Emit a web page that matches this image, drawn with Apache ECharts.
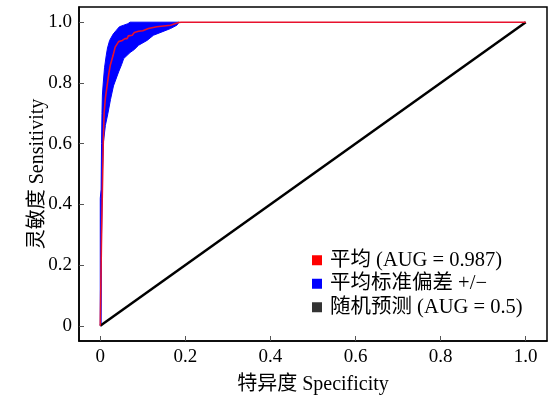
<!DOCTYPE html>
<html>
<head>
<meta charset="utf-8">
<script src="https://cdn.jsdelivr.net/npm/echarts@6/dist/echarts.min.js"></script>
<style>html,body{margin:0;padding:0;background:#fff}#c{width:550px;height:397px}</style>
</head>
<body>
<div id="c"></div>
<script>
var tickValues = [0, 0.2, 0.4, 0.6, 0.8, 1.0];
var tickLabels = ['0', '0.2', '0.4', '0.6', '0.8', '1.0'];
var seriesNames = ['平均 (AUG = 0.987)', '平均标准偏差 +/\u2212', '随机预测 (AUG = 0.5)'];

// mean ROC curve [fpr, sensitivity]
var meanCurve = [
  [0,0],[0.001,0.10],[0.003,0.30],[0.005,0.45],[0.007,0.60],[0.009,0.70],[0.012,0.75],
  [0.016,0.79],[0.020,0.83],[0.0235,0.858],[0.030,0.89],[0.035,0.918],[0.043,0.936],
  [0.052,0.940],[0.058,0.946],[0.063,0.946],[0.066,0.955],[0.075,0.957],[0.080,0.966],
  [0.090,0.970],[0.100,0.972],[0.113,0.979],[0.133,0.985],[0.165,0.990],[0.184,0.999],
  [0.19,1.0],[1.0,1.0]
];
// upper bound of std band (left edge)
var bandUpper = [
  [0,0],[0,0.42],[0.002,0.45],[0.003,0.60],[0.004,0.70],[0.005,0.76],[0.007,0.80],
  [0.010,0.85],[0.014,0.89],[0.017,0.915],[0.022,0.94],[0.030,0.96],[0.037,0.972],
  [0.045,0.985],[0.055,0.990],[0.065,0.995],[0.070,1.0],[0.185,1.0]
];
// lower bound of std band (right edge)
var bandLower = [
  [0.002,0],[0.003,0.30],[0.005,0.50],[0.007,0.60],[0.012,0.66],[0.018,0.70],[0.024,0.745],
  [0.031,0.79],[0.043,0.836],[0.050,0.86],[0.055,0.88],[0.070,0.90],[0.080,0.91],[0.090,0.924],
  [0.110,0.940],[0.125,0.957],[0.145,0.968],[0.165,0.979],[0.180,0.990],[0.185,1.0]
];
var randomLine = [[0,0],[1,1]];

var bandPolygon = bandUpper.concat(bandLower.slice().reverse());

var serif = '"Liberation Serif", "Times New Roman", "Noto Sans CJK SC", serif';
var chart = echarts.init(document.getElementById('c'), null, {renderer: 'canvas'});
chart.setOption({
  animation: false,
  backgroundColor: '#fff',
  grid: {left: 79, right: 3, top: 7, bottom: 56, show: true, borderColor: '#000', borderWidth: 1.5,
    backgroundColor: 'transparent', outerBoundsMode: 'none', containLabel: false},
  legend: {
    orient: 'vertical', left: 307, top: 245, itemWidth: 10, itemHeight: 10, itemGap: 3,
    textStyle: {fontFamily: serif, fontSize: 20.5, color: '#000', padding: [0, 0, 0, 3]},
    data: [
      {name: seriesNames[0], icon: 'rect', itemStyle: {color: '#ff0000'}},
      {name: seriesNames[1], icon: 'rect', itemStyle: {color: '#0000ff'}},
      {name: seriesNames[2], icon: 'rect', itemStyle: {color: '#333333'}}
    ]
  },
  xAxis: {
    type: 'value', min: -0.05, max: 1.05,
    name: '特异度 Specificity', nameLocation: 'middle', nameGap: 34, nameMoveOverlap: false,
    nameTextStyle: {fontFamily: serif, fontSize: 20, color: '#000'},
    axisLine: {show: true, onZero: false, lineStyle: {color: '#000', width: 1.5}},
    axisTick: {show: true, inside: true, length: 5, customValues: tickValues, lineStyle: {color: '#555'}},
    axisLabel: {customValues: tickValues, fontFamily: serif, fontSize: 19, color: '#000', margin: 7,
      formatter: function(v){ var i = tickValues.indexOf(v); return i >= 0 ? tickLabels[i] : ''; }},
    splitLine: {show: false}
  },
  yAxis: {
    type: 'value', min: -0.05, max: 1.05,
    name: '灵敏度 Sensitivity', nameLocation: 'middle', nameGap: 31, nameMoveOverlap: false,
    nameTextStyle: {fontFamily: serif, fontSize: 20, color: '#000'},
    axisLine: {show: true, onZero: false, lineStyle: {color: '#000', width: 1.5}},
    axisTick: {show: true, inside: true, length: 5, customValues: tickValues, lineStyle: {color: '#555'}},
    axisLabel: {customValues: tickValues, fontFamily: serif, fontSize: 19, color: '#000', margin: 7,
      formatter: function(v){ var i = tickValues.indexOf(v); return i >= 0 ? tickLabels[i] : ''; }},
    splitLine: {show: false}
  },
  series: [
    {
      name: seriesNames[1], type: 'custom', z: 2,
      itemStyle: {color: '#0000ff'},
      data: [[0, 0]],
      renderItem: function(params, api) {
        var pts = bandPolygon.map(function(p){ return api.coord(p); });
        return {type: 'polygon', shape: {points: pts}, style: {fill: '#0000ff', stroke: '#0000ff', lineWidth: 1}};
      }
    },
    {
      name: seriesNames[2], type: 'line', z: 3, data: randomLine, showSymbol: false, symbol: 'none',
      itemStyle: {color: '#333333'}, lineStyle: {color: '#000', width: 2.5}
    },
    {
      name: seriesNames[0], type: 'line', z: 4, data: meanCurve, showSymbol: false, symbol: 'none',
      itemStyle: {color: '#ff0000'}, lineStyle: {color: '#e8112d', width: 1.6}
    }
  ]
});
</script>
</body>
</html>
